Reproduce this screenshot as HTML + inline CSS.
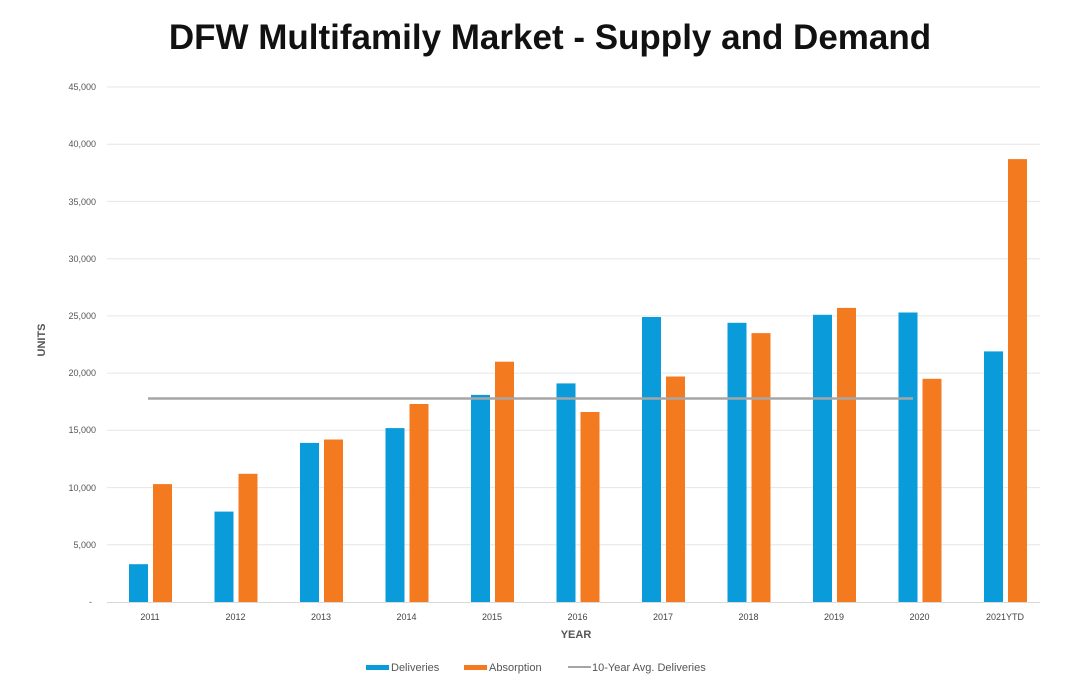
<!DOCTYPE html>
<html><head><meta charset="utf-8"><style>
body{margin:0;background:#fff;}
svg{display:block;font-family:"Liberation Sans",sans-serif;}
</style></head><body>
<svg width="1080" height="675" viewBox="0 0 1080 675" xmlns="http://www.w3.org/2000/svg">
<rect width="1080" height="675" fill="#fff"/>
<text x="550" y="49" text-anchor="middle" font-size="35" font-weight="bold" fill="#111">DFW Multifamily Market - Supply and Demand</text>
<g stroke="#e6e6e6" stroke-width="1">
<line x1="107" x2="1040" y1="87" y2="87"/><line x1="107" x2="1040" y1="144.2" y2="144.2"/>
<line x1="107" x2="1040" y1="201.4" y2="201.4"/><line x1="107" x2="1040" y1="258.7" y2="258.7"/>
<line x1="107" x2="1040" y1="315.9" y2="315.9"/><line x1="107" x2="1040" y1="373.1" y2="373.1"/>
<line x1="107" x2="1040" y1="430.3" y2="430.3"/><line x1="107" x2="1040" y1="487.6" y2="487.6"/>
<line x1="107" x2="1040" y1="544.8" y2="544.8"/>
</g>
<line x1="107" x2="1040" y1="602.5" y2="602.5" stroke="#d9d9d9"/>
<g font-size="9" fill="#555" text-anchor="end">
<text x="96" y="90">45,000</text><text x="96" y="147">40,000</text><text x="96" y="205">35,000</text>
<text x="96" y="262">30,000</text><text x="96" y="319">25,000</text><text x="96" y="376">20,000</text>
<text x="96" y="433">15,000</text><text x="96" y="491">10,000</text><text x="96" y="548">5,000</text>
<text x="92" y="605">-</text>
</g>
<text transform="translate(45,340) rotate(-90)" text-anchor="middle" font-size="11" font-weight="bold" fill="#555">UNITS</text>
<g fill="#0a9bdb">
<rect x="129" y="564.2" width="19" height="37.8"/>
<rect x="214.5" y="511.6" width="19" height="90.4"/>
<rect x="300" y="442.9" width="19" height="159.1"/>
<rect x="385.5" y="428.1" width="19" height="173.9"/>
<rect x="471" y="394.9" width="19" height="207.1"/>
<rect x="556.5" y="383.4" width="19" height="218.6"/>
<rect x="642" y="317" width="19" height="285"/>
<rect x="727.5" y="322.8" width="19" height="279.2"/>
<rect x="813" y="314.8" width="19" height="287.2"/>
<rect x="898.5" y="312.5" width="19" height="289.5"/>
<rect x="984" y="351.4" width="19" height="250.6"/>
</g>
<g fill="#f47a20">
<rect x="153" y="484.1" width="19" height="117.9"/>
<rect x="238.5" y="473.8" width="19" height="128.2"/>
<rect x="324" y="439.5" width="19" height="162.5"/>
<rect x="409.5" y="404" width="19" height="198"/>
<rect x="495" y="361.7" width="19" height="240.3"/>
<rect x="580.5" y="412" width="19" height="190"/>
<rect x="666" y="376.5" width="19" height="225.5"/>
<rect x="751.5" y="333.1" width="19" height="268.9"/>
<rect x="837" y="307.9" width="19" height="294.1"/>
<rect x="922.5" y="378.8" width="19" height="223.2"/>
<rect x="1008" y="159.1" width="19" height="442.9"/>
</g>
<line x1="148" x2="913" y1="398.5" y2="398.5" stroke="#a6a6a6" stroke-width="2.5"/>
<g font-size="9" fill="#444" text-anchor="middle">
<text x="150" y="620">2011</text><text x="235.5" y="620">2012</text><text x="321" y="620">2013</text>
<text x="406.5" y="620">2014</text><text x="492" y="620">2015</text><text x="577.5" y="620">2016</text>
<text x="663" y="620">2017</text><text x="748.5" y="620">2018</text><text x="834" y="620">2019</text>
<text x="919.5" y="620">2020</text><text x="1005" y="620">2021YTD</text>
</g>
<text x="576" y="638" text-anchor="middle" font-size="11" font-weight="bold" fill="#555">YEAR</text>
<rect x="366" y="665" width="23" height="5" fill="#0a9bdb"/>
<text x="391" y="671" font-size="11" fill="#555">Deliveries</text>
<rect x="464" y="665" width="23" height="5" fill="#f47a20"/>
<text x="489" y="671" font-size="11" fill="#555">Absorption</text>
<line x1="568" x2="591" y1="667" y2="667" stroke="#a6a6a6" stroke-width="2"/>
<text x="592" y="671" font-size="11" fill="#555">10-Year Avg. Deliveries</text>
</svg>
</body></html>
